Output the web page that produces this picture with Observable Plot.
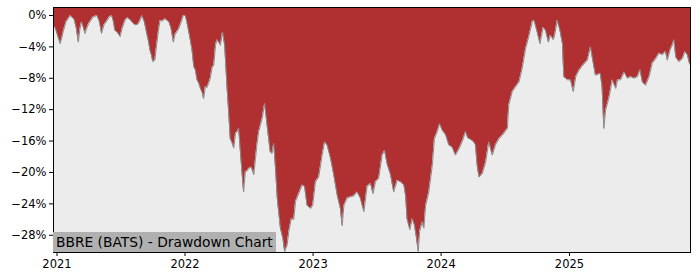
<!DOCTYPE html>
<html>
<head>
<meta charset="utf-8">
<script src="https://cdn.jsdelivr.net/npm/d3@7"></script>
<script src="https://cdn.jsdelivr.net/npm/@observablehq/plot@0.6"></script>
<style>
  html, body { margin: 0; padding: 0; background: #ffffff; }
  #wrap { position: relative; width: 700px; height: 280px; font-family: "DejaVu Sans", sans-serif; }
  #label {
    position: absolute; left: 53px; bottom: 28px; height: 20.5px; line-height: 21px;
    padding: 0 3px; background: #b0b0b0; color: #000; font-size: 13.8px; white-space: nowrap;
  }
</style>
</head>
<body>
<div id="wrap"><div id="label">BBRE (BATS) - Drawdown Chart</div></div>
<script>
const dates = [
"2020-12-22","2020-12-26","2020-12-30","2021-01-06","2021-01-10","2021-01-14","2021-01-19","2021-01-27","2021-02-02","2021-02-08",
"2021-02-14","2021-02-19","2021-02-25","2021-03-03","2021-03-07","2021-03-12","2021-03-17","2021-03-22","2021-03-27","2021-04-02",
"2021-04-08","2021-04-14","2021-04-20","2021-04-25","2021-05-02","2021-05-08","2021-05-15","2021-05-23","2021-05-30","2021-06-06",
"2021-06-11","2021-06-15","2021-06-23","2021-06-30","2021-07-06","2021-07-14","2021-07-21","2021-07-28","2021-08-04","2021-08-11",
"2021-08-20","2021-08-26","2021-08-31","2021-09-07","2021-09-14","2021-09-19","2021-09-23","2021-09-28","2021-10-01","2021-10-07",
"2021-10-12","2021-10-17","2021-10-22","2021-10-29","2021-11-05","2021-11-10","2021-11-16","2021-11-22","2021-11-29","2021-12-03",
"2021-12-08","2021-12-13","2021-12-20","2021-12-27","2022-01-02","2022-01-07","2022-01-14","2022-01-21","2022-01-26","2022-01-31",
"2022-02-04","2022-02-09","2022-02-14","2022-02-19","2022-02-23","2022-02-28","2022-03-04","2022-03-09","2022-03-14","2022-03-19",
"2022-03-24","2022-03-29","2022-04-02","2022-04-07","2022-04-12","2022-04-18","2022-04-24","2022-05-01","2022-05-06","2022-05-10",
"2022-05-15","2022-05-20","2022-05-25","2022-05-30","2022-06-03","2022-06-08","2022-06-13","2022-06-17","2022-06-22","2022-06-27",
"2022-07-02","2022-07-09","2022-07-16","2022-07-21","2022-07-25","2022-07-30","2022-08-04","2022-08-09","2022-08-16","2022-08-23",
"2022-09-01","2022-09-06","2022-09-11","2022-09-16","2022-09-21","2022-09-25","2022-09-30","2022-10-07","2022-10-12","2022-10-19",
"2022-10-24","2022-10-31","2022-11-07","2022-11-12","2022-11-21","2022-12-01","2022-12-08","2022-12-15","2022-12-25","2022-12-31",
"2023-01-08","2023-01-17","2023-01-27","2023-02-03","2023-02-10","2023-02-20","2023-03-01","2023-03-11","2023-03-20","2023-03-25",
"2023-03-30","2023-04-08","2023-04-18","2023-04-27","2023-05-07","2023-05-16","2023-05-26","2023-06-04","2023-06-14","2023-06-21",
"2023-06-28","2023-07-07","2023-07-17","2023-07-24","2023-07-31","2023-08-10","2023-08-19","2023-08-29","2023-09-07","2023-09-17",
"2023-09-22","2023-09-26","2023-10-04","2023-10-11","2023-10-17","2023-10-23","2023-10-28","2023-11-01","2023-11-08","2023-11-13",
"2023-11-18","2023-11-27","2023-12-07","2023-12-13","2023-12-21","2023-12-28","2024-01-04","2024-01-14","2024-01-23","2024-02-02",
"2024-02-11","2024-02-21","2024-03-01","2024-03-11","2024-03-17","2024-03-25","2024-04-03","2024-04-08","2024-04-13","2024-04-18",
"2024-04-27","2024-05-07","2024-05-16","2024-05-26","2024-06-04","2024-06-14","2024-06-23","2024-07-08","2024-07-12","2024-07-22",
"2024-07-31","2024-08-10","2024-08-19","2024-08-29","2024-09-07","2024-09-17","2024-09-22","2024-10-01","2024-10-09","2024-10-18",
"2024-10-25","2024-11-02","2024-11-08","2024-11-16","2024-11-20","2024-11-27","2024-12-05","2024-12-12","2024-12-16","2024-12-26",
"2025-01-04","2025-01-12","2025-01-19","2025-01-28","2025-02-07","2025-02-21","2025-03-02","2025-03-10","2025-03-16","2025-03-30",
"2025-04-04","2025-04-09","2025-04-14","2025-04-24","2025-05-03","2025-05-13","2025-05-18","2025-05-27","2025-06-06","2025-06-15",
"2025-06-25","2025-07-04","2025-07-14","2025-07-21","2025-07-28","2025-08-06","2025-08-16","2025-08-25","2025-09-04","2025-09-13",
"2025-09-23","2025-10-02","2025-10-07","2025-10-15","2025-10-21","2025-10-26","2025-10-31","2025-11-09","2025-11-19","2025-11-26",
"2025-12-03","2025-12-09","2025-12-12"
];
const drawdown = [
-1.4,-1.5,-2.0,-3.0,-3.6,-3.0,-2.0,-0.8,-0.4,0,
-0.3,-0.5,-1.6,-3.4,-1.8,-0.8,-1.5,-2.3,-1.6,-1.0,
-0.6,-0.2,-0.1,0,-0.8,-2.3,-1.2,-0.7,-0.2,0,
-0.8,-1.9,-2.2,-2.7,-1.6,-0.6,-0.3,-0.5,-0.9,-1.2,
-1.1,-0.6,0,-0.8,-2.3,-3.3,-4.4,-5.2,-5.9,-5.7,
-3.8,-2.0,-0.6,-0.7,-0.4,-0.6,-0.8,-1.6,-3.4,-2.5,
-2.1,-1.8,-1.0,0,0,-1.0,-2.6,-4.4,-6.5,-7.0,
-8.2,-8.6,-9.3,-9.8,-10.6,-9.0,-9.2,-8.7,-8.0,-6.7,
-6.3,-3.8,-3.1,-3.4,-3.8,-2.1,-3.8,-9.3,-12.7,-15.7,
-16.2,-16.9,-15.0,-14.8,-14.4,-17.4,-20.3,-22.5,-19.9,-19.8,
-19.5,-19.3,-20.3,-18.2,-16.5,-14.8,-14.0,-13.1,-11.2,-14.0,
-17.4,-17.6,-16.3,-19.5,-23.3,-25.0,-27.1,-28.4,-30.1,-29.3,
-27.5,-25.9,-26.0,-23.7,-22.7,-21.6,-21.8,-24.2,-24.6,-24.2,
-21.2,-20.6,-17.8,-16.1,-16.5,-18.2,-20.3,-22.9,-24.6,-26.8,
-24.2,-23.3,-23.1,-23.0,-22.5,-23.3,-25.0,-21.8,-21.4,-22.7,
-21.2,-20.8,-17.8,-17.2,-18.9,-20.3,-22.5,-21.0,-21.2,-21.6,
-23.0,-25.9,-27.3,-25.9,-26.7,-28.4,-30.1,-27.5,-26.3,-27.1,
-24.2,-22.5,-19.1,-15.7,-14.8,-13.8,-14.6,-15.2,-16.5,-16.8,
-17.8,-17.0,-16.1,-14.8,-15.6,-15.8,-16.1,-16.5,-19.1,-20.6,
-20.2,-18.7,-16.1,-17.8,-16.5,-15.7,-15.3,-14.4,-11.4,-9.7,
-9.1,-8.5,-6.8,-4.2,-2.7,-0.8,-0.6,-2.1,-3.6,-1.5,
-1.9,-3.4,-2.5,-3.1,-2.5,-0.6,-1.9,-3.6,-7.8,-8.2,
-8.2,-9.7,-7.8,-7.0,-6.4,-5.7,-4.0,-6.1,-7.6,-7.4,
-9.1,-14.4,-12.1,-10.4,-8.2,-9.3,-8.2,-8.2,-7.2,-8.0,
-7.8,-8.0,-7.8,-6.9,-8.5,-8.9,-7.8,-6.1,-5.5,-4.8,
-5.0,-4.6,-5.7,-4.4,-3.8,-3.1,-5.3,-5.9,-5.5,-4.6,
-5.0,-6.1,-6.3
];
const yTicks = [0, -4, -8, -12, -16, -20, -24, -28];
const xTickLabels = ["2021", "2022", "2023", "2024", "2025"];
const yDomain = [-30.2, 1.02];

const parse = d3.utcParse("%Y-%m-%d");
const data = dates.map((d, i) => ({date: parse(d), dd: drawdown[i]}));
const xTicks = xTickLabels.map(y => parse(y + "-01-01"));
const fmtY = d => (d < 0 ? "\u2212" : "") + Math.abs(d) + "%";

const RED = "#b03031";
const BG = "#ececec";

const chart = Plot.plot({
  width: 700,
  height: 280,
  marginLeft: 53,
  marginRight: 10,
  marginTop: 7,
  marginBottom: 28,
  style: {fontFamily: "DejaVu Sans, sans-serif", fontSize: "11.5px", background: "transparent", color: "#000"},
  x: {type: "utc", domain: d3.extent(data, d => d.date)},
  y: {domain: yDomain},
  marks: [
    Plot.frame({fill: RED}),
    Plot.areaY(data, {x: "date", y1: yDomain[0], y2: "dd", fill: BG}),
    Plot.lineY(data, {x: "date", y: "dd", stroke: "#8c8c8c", strokeWidth: 1}),
    Plot.frame({stroke: "#000", strokeWidth: 1}),
    Plot.axisY(yTicks, {tickFormat: fmtY, tickSize: 4, tickPadding: 3, label: null}),
    Plot.axisX(xTicks, {tickFormat: d3.utcFormat("%Y"), tickSize: 4, tickPadding: 3, label: null})
  ]
});
const wrap = document.getElementById("wrap");
wrap.insertBefore(chart, wrap.firstChild);
</script>
</body>
</html>
